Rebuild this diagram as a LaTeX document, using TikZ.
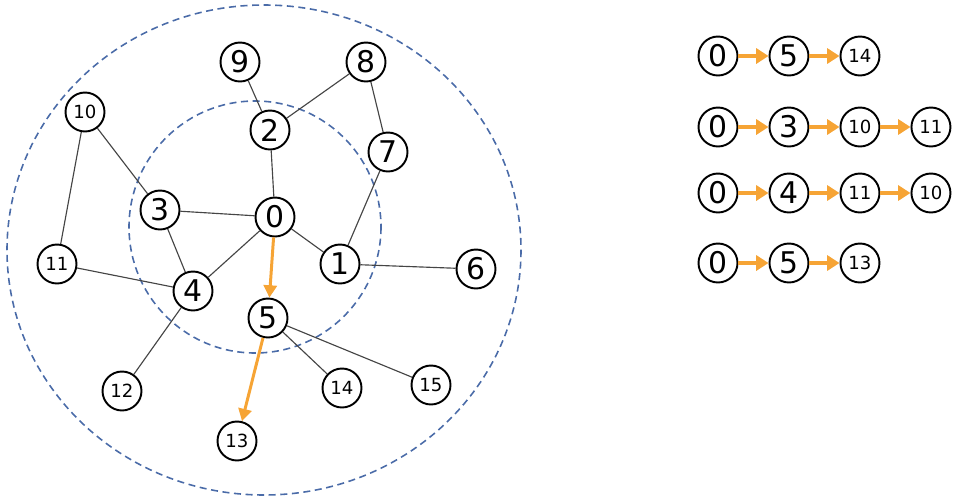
\documentclass[tikz,border=0pt]{standalone}
\usepackage{fontspec}
\setmainfont{DejaVu Sans}
\usetikzlibrary{arrows.meta}
\definecolor{ringblue}{HTML}{4A6BA8}
\definecolor{pathorange}{HTML}{F6A435}
\definecolor{edgegray}{HTML}{454545}
\tikzstyle{vertex} = [circle, draw=black, fill=white, line width=1.1pt, minimum size=0.78cm, inner sep=0pt, font=\fontsize{17}{17}\selectfont]
\tikzstyle{smallvertex} = [vertex, font=\fontsize{10.3}{10.3}\selectfont]
\tikzstyle{ring} = [draw=ringblue, line width=0.9pt, dash pattern=on 4pt off 2.6pt]
\tikzstyle{edge} = [draw=edgegray, line width=0.65pt]
\tikzstyle{walk} = [draw=pathorange, line width=1.7pt, -{Triangle[length=7pt,width=7.5pt]}]
\tikzstyle{chain} = [draw=pathorange, line width=2.4pt, -{Triangle[length=7pt,width=8.5pt]}]

\begin{document}
\begin{tikzpicture}[x=0.02cm, y=-0.02cm, node distance=1.42cm]
  \useasboundingbox (0,0) rectangle (954,501);
  % the two search rings
  \draw[ring] (264,250) ellipse [x radius=257, y radius=245];
  \draw[ring] (255,227) circle [radius=126];
  % graph
  \node (n0)[vertex] at (275,217) {0};
  \node (n1)[vertex] at (340,264) {1};
  \node (n2)[vertex] at (270,130) {2};
  \node (n3)[vertex] at (160,210) {3};
  \node (n4)[vertex] at (193,291) {4};
  \node (n5)[vertex] at (268,318) {5};
  \node (n6)[vertex] at (476,269) {6};
  \node (n7)[vertex] at (388,152) {7};
  \node (n8)[vertex] at (366,62) {8};
  \node (n9)[vertex] at (240,62) {9};
  \node (n10)[smallvertex] at (85,112) {10};
  \node (n11)[smallvertex] at (57,264) {11};
  \node (n12)[smallvertex] at (122,391) {12};
  \node (n13)[smallvertex] at (237,441) {13};
  \node (n14)[smallvertex] at (342,388) {14};
  \node (n15)[smallvertex] at (431,385) {15};
  \draw[edge] (n9)--(n2);
  \draw[edge] (n8)--(n2);
  \draw[edge] (n8)--(n7);
  \draw[edge] (n7)--(n1);
  \draw[edge] (n2)--(n0);
  \draw[edge] (n10)--(n3);
  \draw[edge] (n10)--(n11);
  \draw[edge] (n3)--(n0);
  \draw[edge] (n3)--(n4);
  \draw[edge] (n0)--(n4);
  \draw[edge] (n0)--(n1);
  \draw[edge] (n1)--(n6);
  \draw[edge] (n11)--(n4);
  \draw[edge] (n4)--(n12);
  \draw[edge] (n5)--(n14);
  \draw[edge] (n5)--(n15);
  \draw[walk] (n0)--(n5);
  \draw[walk] (n5)--(n13);
  % paths
  \node (p1a)[vertex] at (718,56) {0};
  \node (p1b)[vertex, right of=p1a] {5};
  \node (p1c)[smallvertex, right of=p1b] {14};
  \draw[chain] (p1a)--(p1b);
  \draw[chain] (p1b)--(p1c);
  \node (p2a)[vertex] at (718,127) {0};
  \node (p2b)[vertex, right of=p2a] {3};
  \node (p2c)[smallvertex, right of=p2b] {10};
  \node (p2d)[smallvertex, right of=p2c] {11};
  \draw[chain] (p2a)--(p2b);
  \draw[chain] (p2b)--(p2c);
  \draw[chain] (p2c)--(p2d);
  \node (p3a)[vertex] at (718,193) {0};
  \node (p3b)[vertex, right of=p3a] {4};
  \node (p3c)[smallvertex, right of=p3b] {11};
  \node (p3d)[smallvertex, right of=p3c] {10};
  \draw[chain] (p3a)--(p3b);
  \draw[chain] (p3b)--(p3c);
  \draw[chain] (p3c)--(p3d);
  \node (p4a)[vertex] at (718,263) {0};
  \node (p4b)[vertex, right of=p4a] {5};
  \node (p4c)[smallvertex, right of=p4b] {13};
  \draw[chain] (p4a)--(p4b);
  \draw[chain] (p4b)--(p4c);
\end{tikzpicture}
\end{document}
